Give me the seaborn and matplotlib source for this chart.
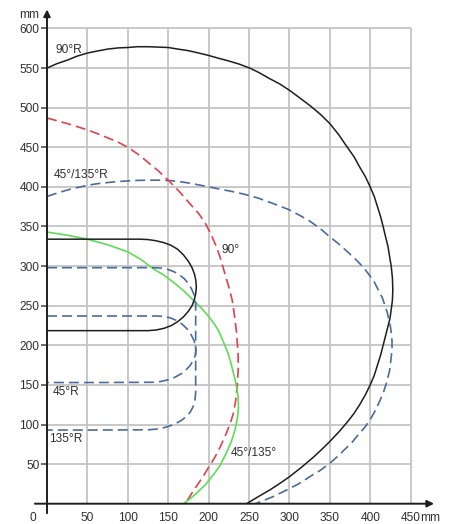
import matplotlib
matplotlib.use("Agg")
import matplotlib.pyplot as plt
import seaborn as sns
import pandas as pd

# ---------------- data (mm) ----------------
r90R_x = [0, 12, 25, 37, 50, 62, 75, 88, 100, 112, 125, 138, 150, 162, 175, 188, 200, 212, 225, 238, 251,
          263, 275, 288, 300, 312, 325, 338, 350, 361, 371, 380, 387, 394, 400, 405, 409, 413, 416, 419, 422,
          424, 426, 427.5, 428, 427.5, 426, 424.5, 422, 419, 416, 413, 409, 405, 400, 394, 387, 380, 372,
          362, 350, 340, 330, 315, 300, 288, 276, 265, 256, 247]
r90R_y = [550, 555.5, 560, 565, 569, 571.5, 574, 575.5, 576, 577, 577, 576.5, 576, 574, 572, 569, 566, 562.5,
          559, 555, 550, 544, 537, 530, 522, 513, 503, 492, 480, 466, 451, 438, 425, 413, 400, 388, 375, 362,
          350, 337, 325, 312, 300, 285, 270, 257, 245, 234, 224, 212, 200, 188, 175, 162, 150, 137.5, 125, 114,
          103.5, 91.5, 78.5, 68.5, 59, 46, 34, 25.5, 17.5, 11, 5.5, 0]

r45R_x = [0, 12, 25, 37, 50, 62, 75, 88, 100, 112, 125, 138, 152, 163, 175, 188, 200, 215, 230, 245, 261,
          280, 300, 312, 325, 338, 350, 361, 372, 382, 391, 398, 405, 410, 415, 418, 421, 423, 425, 426.3,
          427, 427, 426, 425, 424, 422, 420, 416.5, 412, 406.5, 400, 393, 385, 378, 370, 360, 350, 338, 325,
          313, 300, 290, 280, 269, 258]
r45R_y = [388, 392, 396, 399, 402, 404, 405.5, 406.8, 407.5, 408.2, 408.5, 408.5, 408, 406.8, 405, 402.5,
          400, 397, 394, 390.5, 386, 379, 371, 364.5, 357, 347.5, 337, 328, 318, 308.5, 299, 290, 280, 270,
          260, 251, 242, 233, 224, 214, 205, 195, 185, 176, 168, 160, 152, 141, 130, 118, 106, 96, 87, 78,
          70, 60, 51, 42, 34, 26, 19, 14, 9, 4.5, 0]

red90_x = [0, 25, 50, 63, 75, 88, 100, 113, 125, 138, 150, 163, 175, 188, 196, 203, 209, 214, 220, 226, 229,
           231, 233, 234.7, 235.5, 236.5, 236.7, 235.5, 233.5, 230.6, 227, 222, 215, 208, 200, 193, 187, 181,
           176, 171]
red90_y = [487, 480, 472, 467, 462, 456.5, 450, 441, 431, 420, 408.5, 395, 381, 366, 354, 340, 326, 312, 291,
           270, 258, 245, 230, 215, 203, 190, 170, 150, 130, 114, 102, 89, 73, 59, 46, 34, 25, 16, 8, 0]

grn_x = [0, 25, 50, 75, 100, 116, 131, 144, 156, 169, 181, 192, 202, 207, 212, 216, 220, 224, 227, 230, 233,
         235, 236.5, 237, 236.3, 235, 232.7, 228, 222, 214, 204, 196, 188, 178, 169]
grn_y = [343, 339, 334, 327, 318, 308.5, 297, 289, 280, 269, 257, 246, 234, 227, 219, 210, 200, 190, 180, 168,
         156, 145, 135, 122, 112, 105, 93, 78, 64, 48, 34, 24, 16, 7, 0]

rect_x = [0, 60, 115, 125, 135, 145, 154, 162, 169, 175, 179.5, 182.5, 184.2, 184.8, 184.2, 182.5, 179.5, 175,
          169, 162, 154, 145, 135, 125, 60, 0]
rect_y = [334, 334, 334, 333.5, 332, 329.5, 326, 321, 314, 306, 298, 290, 282, 274, 266, 258, 250, 243, 236,
          230, 225, 221.5, 219.3, 218.5, 218.5, 218.5]

b135_x = [0, 60, 131, 140, 149, 157, 164, 170, 175, 179, 182, 183.5, 184, 184, 183, 181, 177.5, 172.5, 166,
          158, 150, 142, 134, 125, 60, 0]
b135_y = [298, 298, 298, 297.6, 296, 293, 289, 284, 278, 271, 264, 257, 250, 140, 130, 123, 116, 110, 105,
          100.5, 97.5, 95.3, 94, 93.3, 93, 93]

b45_x = [0, 60, 136, 145, 153, 161, 168, 174, 178.5, 182, 184, 184.4, 183.5, 181, 177.5, 172.5, 166, 158, 150,
         141, 131, 60, 0]
b45_y = [237, 237, 237, 236.5, 234.5, 231, 226, 220, 213, 206, 199, 193, 187.5, 181, 175, 169.5, 164, 159.5,
         156.5, 154.3, 153.3, 153, 153]

x_ticks = [50, 100, 150, 200, 250, 300, 350, 400, 450]
y_ticks = [50, 100, 150, 200, 250, 300, 350, 400, 450, 500, 550, 600]
x_ticklabels = ["50", "100", "150", "200", "250", "300", "350", "400", "450"]
y_ticklabels = ["50", "100", "150", "200", "250", "300", "350", "400", "450", "500", "550", "600"]

labels = ["90°R", "45°/135°R", "90°", "45°R", "135°R", "45°/135°"]
label_x = [10, 8, 216, 7, 3, 227]
label_y = [573, 415, 320, 141, 82, 64]

# ---------------- styling ----------------
sns.set_style("white")
plt.rcParams["font.family"] = ["Liberation Sans", "DejaVu Sans"]

BLACK = "#1e1e1e"
RED = "#e2404c"
BLUE = "#4a6c9c"
GREEN = "#5fdc55"
GRID = "#c4c4c4"
TXT = "#303030"
FS = 8.6

fig = plt.figure(figsize=(4.57, 5.24), dpi=100)
ax = fig.add_axes([47 / 457, 20.3 / 524, 480 * 0.808 / 457, 625 * 0.792 / 524])
ax.set_xlim(0, 480)
ax.set_ylim(0, 625)
for s in ax.spines.values():
    s.set_visible(False)

# grid (bounded to 0..450 x 0..600)
ax.vlines(x_ticks, 0, 600, color=GRID, lw=1.3, zorder=0)
ax.hlines(y_ticks, 0, 450, color=GRID, lw=1.3, zorder=0)

def curve(xs, ys, color, dashed=False, lw=1.1):
    df = pd.DataFrame({"x": xs, "y": ys})
    kw = dict(linestyle=(0, (6, 3))) if dashed else {}
    sns.lineplot(data=df, x="x", y="y", sort=False, estimator=None, color=color,
                 lw=lw, ax=ax, zorder=3, **kw)

curve(r90R_x, r90R_y, BLACK, lw=1.1)
curve(r45R_x, r45R_y, BLUE, dashed=True, lw=1.2)
curve(red90_x, red90_y, RED, dashed=True, lw=1.2)
curve(grn_x, grn_y, GREEN, lw=1.2)
curve(rect_x, rect_y, BLACK, lw=1.1)
curve(b135_x, b135_y, BLUE, dashed=True, lw=1.2)
curve(b45_x, b45_y, BLUE, dashed=True, lw=1.2)

# axes with arrows
ax.annotate("", xy=(479, 0), xytext=(-15, 0), annotation_clip=False,
            arrowprops=dict(arrowstyle="-|>", color=BLACK, lw=1.4, mutation_scale=10, shrinkA=0, shrinkB=0),
            zorder=5)
ax.annotate("", xy=(0, 624), xytext=(0, -12), annotation_clip=False,
            arrowprops=dict(arrowstyle="-|>", color=BLACK, lw=1.4, mutation_scale=10, shrinkA=0, shrinkB=0),
            zorder=5)

# ticks
ax.set_xticks(x_ticks)
ax.set_xticklabels(x_ticklabels)
ax.set_yticks(y_ticks)
ax.set_yticklabels(y_ticklabels)
ax.tick_params(axis="x", length=0, pad=6.0, labelsize=FS, labelcolor=TXT)
ax.tick_params(axis="y", length=4, width=1.1, color="#444444", direction="out", pad=1.5,
               labelsize=FS, labelcolor=TXT, left=True)
ax.set_xlabel("")
ax.set_ylabel("")

ax.text(-10, 617, "mm", ha="right", va="center", fontsize=FS, color=TXT, clip_on=False)
ax.text(461.5, -17.7, "mm", ha="left", va="center", fontsize=FS, color=TXT, clip_on=False)
ax.text(-17, -17.7, "0", ha="center", va="center", fontsize=FS, color=TXT, clip_on=False)

for t, lx, ly in zip(labels, label_x, label_y):
    ax.text(lx, ly, t, ha="left", va="center", fontsize=FS, color=TXT, zorder=6)

fig.savefig("out.png", dpi=100)
